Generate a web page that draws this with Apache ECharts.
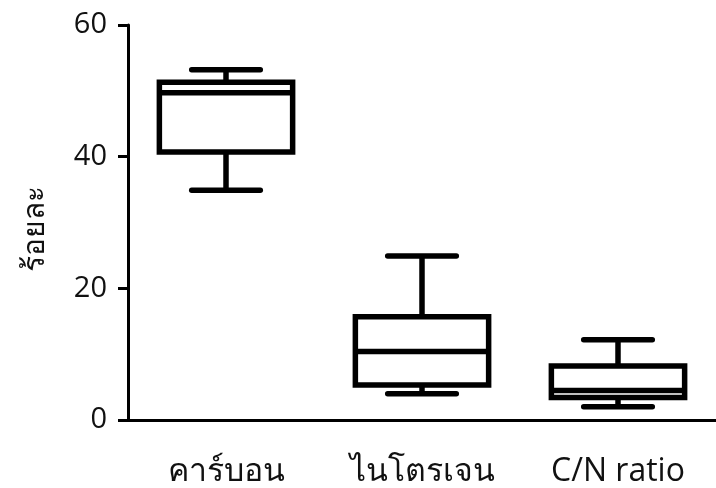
<!DOCTYPE html>
<html>
<head>
<meta charset="utf-8">
<script src="https://cdn.jsdelivr.net/npm/echarts@6/dist/echarts.min.js"></script>
<style>html,body{margin:0;padding:0;background:#fff;}#c{width:716px;height:488px;}</style>
</head>
<body>
<div id="c"></div>
<script>
var categories = ['คาร์บอน', 'ไนโตรเจน', 'C/N ratio'];
var minVals = [34.9, 4.0, 2.0];
var q1Vals = [40.7, 5.3, 3.4];
var medVals = [49.7, 10.4, 4.5];
var q3Vals = [51.3, 15.7, 8.2];
var maxVals = [53.2, 24.9, 12.2];
var yTicks = [0, 20, 40, 60];

var data = categories.map(function (c, i) {
  return [i, minVals[i], q1Vals[i], medVals[i], q3Vals[i], maxVals[i]];
});

var FONT = '"Open Sans", "Noto Sans", sans-serif';
var chart = echarts.init(document.getElementById('c'));
var LW = 5.5;
chart.setOption({
  animation: false,
  grid: { left: 128, top: 25, bottom: 68, width: 600 },
  xAxis: {
    type: 'category',
    data: categories,
    boundaryGap: true,
    axisLine: { lineStyle: { color: '#000', width: 3 } },
    axisTick: { alignWithLabel: true, length: 12, lineStyle: { color: '#000', width: 3 } },
    axisLabel: { color: '#111', fontSize: 32, margin: 36, fontFamily: FONT }
  },
  yAxis: {
    type: 'value',
    min: yTicks[0],
    max: yTicks[yTicks.length - 1],
    interval: 20,
    name: 'ร้อยละ',
    nameLocation: 'middle',
    nameGap: 78,
    nameTextStyle: { color: '#111', fontSize: 30, fontFamily: FONT, padding: [0, 12, 0, 0] },
    splitLine: { show: false },
    axisLine: { show: true, lineStyle: { color: '#000', width: 3 } },
    axisTick: { show: true, length: 10, lineStyle: { color: '#000', width: 3 } },
    axisLabel: { color: '#111', fontSize: 29, margin: 21, fontFamily: FONT }
  },
  series: [{
    type: 'custom',
    data: data,
    encode: { x: 0, y: [1, 2, 3, 4, 5] },
    renderItem: function (params, api) {
      var idx = api.value(0);
      var band = api.size([1, 0])[0];
      var bw = band * 0.68;
      var cw = band * 0.35;
      var pMin = api.coord([idx, api.value(1)]);
      var pQ1 = api.coord([idx, api.value(2)]);
      var pMed = api.coord([idx, api.value(3)]);
      var pQ3 = api.coord([idx, api.value(4)]);
      var pMax = api.coord([idx, api.value(5)]);
      var x = pMed[0];
      var st = { stroke: '#000', lineWidth: LW, fill: null };
      return {
        type: 'group',
        children: [
          { type: 'rect', shape: { x: x - bw / 2, y: pQ3[1], width: bw, height: pQ1[1] - pQ3[1] }, style: { stroke: '#000', lineWidth: LW, fill: '#fff' } },
          { type: 'line', shape: { x1: x - bw / 2, y1: pMed[1], x2: x + bw / 2, y2: pMed[1] }, style: st },
          { type: 'line', shape: { x1: x, y1: pQ3[1], x2: x, y2: pMax[1] }, style: st },
          { type: 'line', shape: { x1: x, y1: pQ1[1], x2: x, y2: pMin[1] }, style: st },
          { type: 'line', shape: { x1: x - cw / 2, y1: pMax[1], x2: x + cw / 2, y2: pMax[1] }, style: { stroke: '#000', lineWidth: LW, lineCap: 'round' } },
          { type: 'line', shape: { x1: x - cw / 2, y1: pMin[1], x2: x + cw / 2, y2: pMin[1] }, style: { stroke: '#000', lineWidth: LW, lineCap: 'round' } }
        ]
      };
    }
  }]
});
</script>
</body>
</html>
